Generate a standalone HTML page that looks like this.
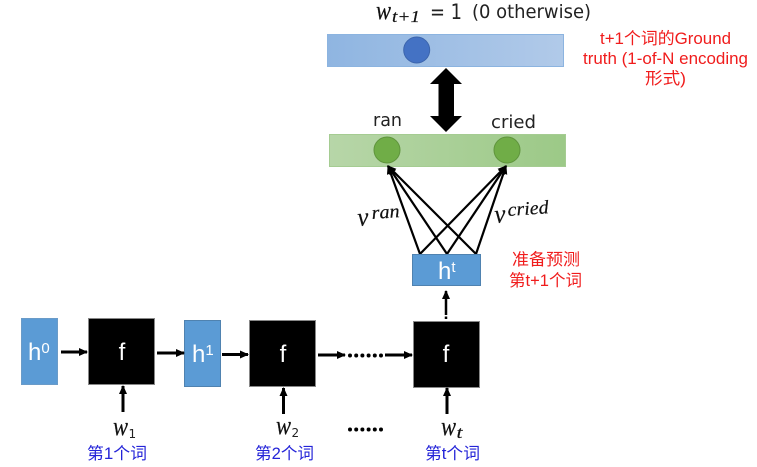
<!DOCTYPE html>
<html>
<head>
<meta charset="utf-8">
<style>
html,body{margin:0;padding:0;background:#fff;}
svg{display:block;}
.m{font-family:"Liberation Serif","DejaVu Serif",serif;font-style:italic;fill:#111;stroke:#111;stroke-width:0.2px;}
.s{font-family:"DejaVu Sans","Liberation Sans",sans-serif;fill:#222;}
.w{font-family:"Liberation Sans",sans-serif;fill:#fff;}
.r{font-family:"Liberation Sans","Noto Sans CJK SC",sans-serif;fill:#f01c1c;font-size:16.5px;}
.b{font-family:"Liberation Sans","Noto Sans CJK SC",sans-serif;fill:#2424d8;font-size:16.5px;}
</style>
</head>
<body>
<svg width="757" height="467" viewBox="0 0 757 467" xmlns="http://www.w3.org/2000/svg">
<defs>
<linearGradient id="gb"><stop offset="0" stop-color="#8fb5e1"/><stop offset="1" stop-color="#b1cae9"/></linearGradient>
<linearGradient id="gg"><stop offset="0" stop-color="#b7d6a8"/><stop offset="1" stop-color="#9cc987"/></linearGradient>
<marker id="ah" markerWidth="10" markerHeight="10" refX="8" refY="4" orient="auto" markerUnits="userSpaceOnUse"><path d="M0,0 L9,4 L0,8 Z" fill="#000"/></marker>
</defs>

<text x="376" y="19" class="m" font-size="26" textLength="15" lengthAdjust="spacingAndGlyphs">w</text>
<text x="392" y="22" class="m" font-size="17" textLength="28" lengthAdjust="spacingAndGlyphs">t+1</text>
<text x="430" y="19" class="s" font-size="21" textLength="32" lengthAdjust="spacingAndGlyphs">= 1</text>
<text x="472" y="18" class="s" font-size="19" textLength="119" lengthAdjust="spacingAndGlyphs">(0 otherwise)</text>

<rect x="327.5" y="34.5" width="236" height="32" fill="url(#gb)" stroke="#8cb4e0"/>
<circle cx="416.7" cy="50" r="13" fill="#4472c4" stroke="#3c65ad"/>

<text x="600" y="44" class="r" textLength="131" lengthAdjust="spacingAndGlyphs">t+1个词的Ground</text>
<text x="583" y="64" class="r" textLength="165" lengthAdjust="spacingAndGlyphs">truth (1-of-N encoding</text>
<text x="645" y="84" class="r" textLength="41" lengthAdjust="spacingAndGlyphs">形式)</text>

<path d="M446,68 L462,84 L454,84 L454,116 L462,116 L446,132 L430,116 L438.5,116 L438.5,84 L430,84 Z" fill="#000"/>

<text x="373" y="126" class="s" font-size="18" textLength="29" lengthAdjust="spacingAndGlyphs">ran</text>
<text x="491" y="128" class="s" font-size="18" textLength="45" lengthAdjust="spacingAndGlyphs">cried</text>

<rect x="329.5" y="134.5" width="236" height="32" fill="url(#gg)" stroke="#a5cc92"/>
<circle cx="387" cy="150" r="13" fill="#70ad47" stroke="#5f943c"/>
<circle cx="507" cy="150" r="13" fill="#70ad47" stroke="#5f943c"/>

<g stroke="#000" stroke-width="2.2" fill="none">
<line x1="420" y1="254" x2="388" y2="166" marker-end="url(#ah)"/>
<line x1="447" y1="254" x2="388" y2="166" marker-end="url(#ah)"/>
<line x1="476" y1="254" x2="388" y2="166" marker-end="url(#ah)"/>
</g>
<g stroke="#000" stroke-width="2.2" fill="none">
<line x1="420" y1="254" x2="506" y2="166" marker-end="url(#ah)"/>
<line x1="447" y1="254" x2="506" y2="166" marker-end="url(#ah)"/>
<line x1="476" y1="254" x2="506" y2="166" marker-end="url(#ah)"/>
</g>

<text x="358" y="226" class="m" font-size="26" textLength="11" lengthAdjust="spacingAndGlyphs" transform="rotate(-4 358 226)">v</text>
<text x="372" y="219" class="m" font-size="19" textLength="28" lengthAdjust="spacingAndGlyphs" transform="rotate(-4 372 219)">ran</text>
<text x="495" y="223" class="m" font-size="26" textLength="11" lengthAdjust="spacingAndGlyphs" transform="rotate(-4 495 223)">v</text>
<text x="508" y="216" class="m" font-size="19" textLength="41" lengthAdjust="spacingAndGlyphs" transform="rotate(-4 508 216)">cried</text>

<rect x="412.5" y="254.5" width="68" height="31" fill="#5b9bd5" stroke="#4f82b0"/>
<text x="438" y="279" class="w" font-size="24">h<tspan font-size="15" dy="-7">t</tspan></text>

<text x="512" y="265" class="r" textLength="68" lengthAdjust="spacingAndGlyphs">准备预测</text>
<text x="509" y="286" class="r" textLength="73" lengthAdjust="spacingAndGlyphs">第t+1个词</text>

<line x1="446" y1="315" x2="446" y2="291" stroke="#000" stroke-width="2.5" marker-end="url(#ah)"/>
<line x1="446" y1="319" x2="446" y2="316.5" stroke="#000" stroke-width="2.5"/>

<rect x="21.5" y="318.5" width="36" height="66" fill="#5b9bd5" stroke="#6a9bc8"/>
<text x="28" y="360" class="w" font-size="24">h<tspan font-size="15" dy="-7">0</tspan></text>

<rect x="88.5" y="318.5" width="66" height="66" fill="#000" stroke="#888"/>
<text x="122" y="360" class="w" font-size="24" text-anchor="middle">f</text>

<rect x="184.5" y="320.5" width="36" height="66" fill="#5b9bd5" stroke="#4f82b0"/>
<text x="192" y="362" class="w" font-size="24">h<tspan font-size="15" dy="-7">1</tspan></text>

<rect x="249.5" y="320.5" width="66" height="66" fill="#000" stroke="#888"/>
<text x="283" y="362" class="w" font-size="24" text-anchor="middle">f</text>

<rect x="413.5" y="321.5" width="66" height="66" fill="#000" stroke="#888"/>
<text x="446" y="362" class="w" font-size="24" text-anchor="middle">f</text>

<g stroke="#000" stroke-width="3">
<line x1="61" y1="352" x2="87" y2="352" marker-end="url(#ah)"/>
<line x1="157" y1="353" x2="184" y2="353" marker-end="url(#ah)"/>
<line x1="222" y1="354.5" x2="248" y2="354.5" marker-end="url(#ah)"/>
<line x1="318" y1="355" x2="345" y2="355" marker-end="url(#ah)"/>
<line x1="385" y1="355" x2="412" y2="355" marker-end="url(#ah)"/>
</g>
<g stroke="#000" stroke-width="3">
<line x1="123" y1="412" x2="123" y2="386" marker-end="url(#ah)"/>
<line x1="283.5" y1="414" x2="283.5" y2="388" marker-end="url(#ah)"/>
<line x1="447" y1="414" x2="447" y2="388" marker-end="url(#ah)"/>
</g>
<line x1="350" y1="355.5" x2="382" y2="355.5" stroke="#000" stroke-width="4" stroke-linecap="round" stroke-dasharray="0 6.2"/>
<line x1="350" y1="429.5" x2="382" y2="429.5" stroke="#000" stroke-width="4" stroke-linecap="round" stroke-dasharray="0 6.2"/>

<text x="113" y="435" class="m" font-size="26" textLength="15" lengthAdjust="spacingAndGlyphs">w</text>
<text x="128.5" y="438" class="s" font-size="12">1</text>
<text x="276" y="434" class="m" font-size="26" textLength="15" lengthAdjust="spacingAndGlyphs">w</text>
<text x="291.5" y="437" class="s" font-size="12">2</text>
<text x="441" y="435" class="m" font-size="26" textLength="15" lengthAdjust="spacingAndGlyphs">w</text>
<text x="456.5" y="438" class="m" font-size="17" textLength="6" lengthAdjust="spacingAndGlyphs">t</text>

<text x="87" y="459" class="b" textLength="60" lengthAdjust="spacingAndGlyphs">第1个词</text>
<text x="255" y="459" class="b" textLength="59" lengthAdjust="spacingAndGlyphs">第2个词</text>
<text x="425" y="459" class="b" textLength="55" lengthAdjust="spacingAndGlyphs">第t个词</text>
</svg>
</body>
</html>
